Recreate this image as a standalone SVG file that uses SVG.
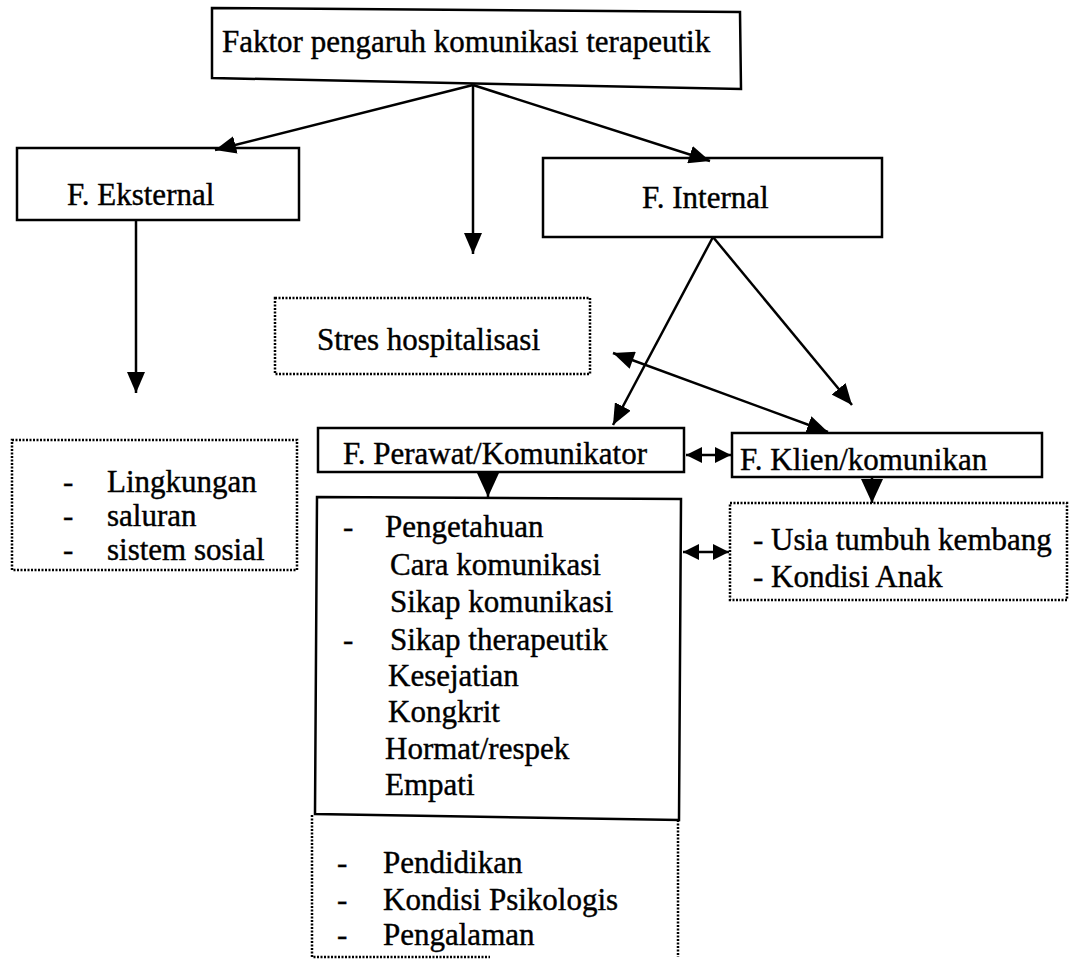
<svg xmlns="http://www.w3.org/2000/svg" width="1070" height="965" viewBox="0 0 1070 965">
<style>
text{font-family:"Liberation Serif","Times New Roman",serif;font-size:31px;fill:#000;stroke:#000;stroke-width:0.4}
.solid{fill:#fff;stroke:#000;stroke-width:2.5}
.dot{fill:#fff;stroke:#000;stroke-width:2.5;stroke-dasharray:2 1.5}
.con line{stroke:#000;stroke-width:2.5}
</style>
<defs>
<marker id="ah" markerUnits="userSpaceOnUse" markerWidth="22" markerHeight="18" refX="21" refY="9" orient="auto">
<path d="M0,0 L21,9 L0,18 Z" fill="#000"/>
</marker>
<marker id="as" markerUnits="userSpaceOnUse" markerWidth="22" markerHeight="18" refX="0" refY="9" orient="auto">
<path d="M21,0 L0,9 L21,18 Z" fill="#000"/>
</marker>
<marker id="sh" markerUnits="userSpaceOnUse" markerWidth="18" markerHeight="16" refX="16" refY="8" orient="auto">
<path d="M0,0 L16,8 L0,16 Z" fill="#000"/>
</marker>
<marker id="ss" markerUnits="userSpaceOnUse" markerWidth="18" markerHeight="16" refX="0" refY="8" orient="auto">
<path d="M16,0 L0,8 L16,16 Z" fill="#000"/>
</marker>
<marker id="dn" markerUnits="userSpaceOnUse" markerWidth="26" markerHeight="24" refX="24" refY="11" orient="auto">
<path d="M0,0 L24,11 L0,22 Z" fill="#000"/>
</marker>
</defs>
<rect width="1070" height="965" fill="#fff"/>

<g id="n-top"><polygon class="solid" points="212,8 740,12 741,89 212,78"/><text x="222" y="52">Faktor pengaruh komunikasi terapeutik</text></g>
<g id="n-eksternal"><rect class="solid" x="17" y="148" width="282" height="72"/><text x="67" y="205">F. Eksternal</text></g>
<g id="n-internal"><rect class="solid" x="543" y="158" width="339" height="79"/><text x="642" y="208">F. Internal</text></g>
<g id="n-stres"><rect class="dot" x="275" y="298" width="315" height="76"/><text x="317" y="350">Stres hospitalisasi</text></g>
<g id="n-lingkungan"><rect class="dot" x="12" y="440" width="285" height="130"/>
<text x="63" y="492">-</text><text x="107" y="492">Lingkungan</text>
<text x="63" y="526">-</text><text x="107" y="526">saluran</text>
<text x="63" y="560">-</text><text x="107" y="560">sistem sosial</text></g>
<g id="n-perawat"><rect class="solid" x="318" y="428" width="366" height="44"/><text x="343" y="464">F. Perawat/Komunikator</text></g>
<g id="n-klien"><rect class="solid" x="732" y="433" width="310" height="44"/><text x="740" y="470">F. Klien/komunikan</text></g>
<g id="n-usia"><rect class="dot" x="730" y="503" width="337" height="97"/>
<text x="753" y="550">- Usia tumbuh kembang</text><text x="753" y="587">- Kondisi Anak</text></g>
<g id="n-lainnya"><path class="dot" fill="none" d="M312,815 V957 H490 M678,820 V957"/>
<text x="337" y="873">-</text><text x="383" y="873">Pendidikan</text>
<text x="337" y="910">-</text><text x="383" y="910">Kondisi Psikologis</text>
<text x="337" y="945">-</text><text x="383" y="945">Pengalaman</text></g>
<g id="n-pengetahuan"><polygon class="solid" points="317,497 681,499 679,820 315,814"/>
<text x="343" y="537">-</text><text x="385" y="537">Pengetahuan</text>
<text x="390" y="575">Cara komunikasi</text>
<text x="390" y="612">Sikap komunikasi</text>
<text x="343" y="650">-</text><text x="390" y="650">Sikap therapeutik</text>
<text x="388" y="686">Kesejatian</text>
<text x="388" y="722">Kongkrit</text>
<text x="385" y="759">Hormat/respek</text>
<text x="385" y="795">Empati</text></g>

<g id="connectors" class="con">
<line x1="473" y1="85" x2="215" y2="150" marker-end="url(#ah)"/>
<line x1="473" y1="85" x2="473" y2="254" marker-end="url(#ah)"/>
<line x1="473" y1="85" x2="710" y2="161" marker-end="url(#ah)"/>
<line x1="136" y1="220" x2="136" y2="393" marker-end="url(#ah)"/>
<line x1="713" y1="237" x2="613" y2="425" marker-end="url(#ah)"/>
<line x1="713" y1="237" x2="852" y2="405" marker-end="url(#ah)"/>
<line x1="613" y1="353" x2="828" y2="432" marker-start="url(#as)" marker-end="url(#ah)"/>
<line x1="686" y1="455" x2="731" y2="455" marker-start="url(#ss)" marker-end="url(#sh)"/>
<line x1="488" y1="473" x2="488" y2="497" marker-end="url(#dn)"/>
<line x1="872" y1="478" x2="872" y2="503" marker-end="url(#dn)"/>
<line x1="683" y1="552" x2="729" y2="552" marker-start="url(#ss)" marker-end="url(#sh)"/>
</g>
</svg>
